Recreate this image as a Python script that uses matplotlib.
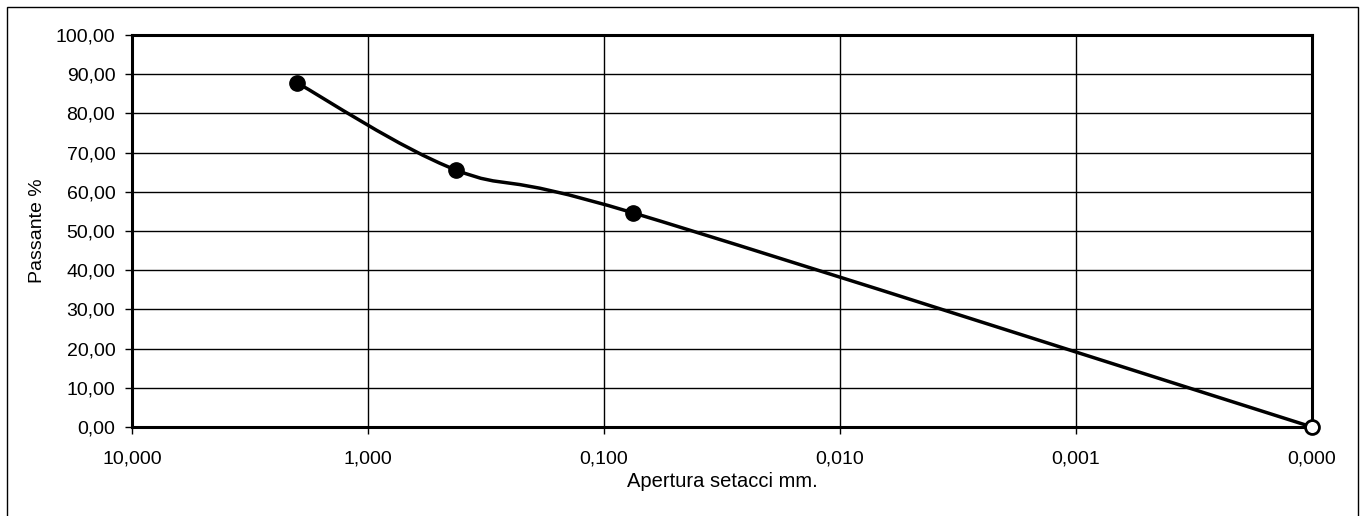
import numpy as np
import matplotlib
matplotlib.use('Agg')
import matplotlib.pyplot as plt
from matplotlib.path import Path
from matplotlib.patches import PathPatch, Rectangle
from matplotlib.ticker import FixedLocator, FuncFormatter, NullLocator

plt.rcParams['font.family'] = ['Liberation Sans', 'DejaVu Sans']

# dati granulometrici
apertura = [2.0, 0.425, 0.075, 0.0001]
passante = [87.8, 65.6, 54.6, 0.0]

x_ticks = [10, 1, 0.1, 0.01, 0.001, 0.0001]
y_ticks = [0, 10, 20, 30, 40, 50, 60, 70, 80, 90, 100]

fig = plt.figure(figsize=(13.64, 5.16), dpi=100)
ax = fig.add_axes([132 / 1364, 89 / 516, 1180 / 1364, 392 / 516])

ax.set_xscale('log')
ax.set_xlim(10, 0.0001)
ax.set_ylim(0, 100)

# linea smussata tipo Excel (Catmull-Rom in spazio log-x)
lx = np.log10(apertura)
py = np.array(passante)
pts = np.column_stack([lx, py])
verts = [pts[0]]
codes = [Path.MOVETO]
n = len(pts)
for i in range(n - 1):
    p0 = pts[max(i - 1, 0)]
    p1 = pts[i]
    p2 = pts[i + 1]
    p3 = pts[min(i + 2, n - 1)]
    c1 = p1 + (p2 - p0) / 6
    c2 = p2 - (p3 - p1) / 6
    verts += [c1, c2, p2]
    codes += [Path.CURVE4] * 3
verts = np.array(verts)
verts[:, 0] = 10 ** verts[:, 0]
ax.add_patch(PathPatch(Path(verts, codes), facecolor='none', edgecolor='black',
                       lw=2.5, zorder=3, clip_on=False))

ax.plot(apertura[:-1], passante[:-1], 'o', color='black', ms=11, zorder=4, clip_on=False)
ax.plot(apertura[-1:], passante[-1:], 'o', mfc='white', mec='black', mew=2, ms=10,
        zorder=4, clip_on=False)

ax.xaxis.set_major_locator(FixedLocator(x_ticks))
ax.xaxis.set_minor_locator(NullLocator())
ax.yaxis.set_major_locator(FixedLocator(y_ticks))
ax.xaxis.set_major_formatter(FuncFormatter(lambda v, p: f"{v:.3f}".replace('.', ',')))
ax.yaxis.set_major_formatter(FuncFormatter(lambda v, p: f"{v:.2f}".replace('.', ',')))

ax.grid(True, color='black', lw=1)
ax.set_axisbelow(True)
for s in ax.spines.values():
    s.set_linewidth(2.2)
ax.tick_params(axis='both', direction='out', length=5, width=1, labelsize=14)
ax.tick_params(axis='y', pad=7)
ax.tick_params(axis='x', pad=12)

ax.set_xlabel('Apertura setacci mm.', fontsize=14.5, labelpad=3)
ax.set_ylabel('Passante %', fontsize=14, labelpad=7)

fig.patches.append(Rectangle((7 / 1364, -0.05), 1351 / 1364, 1.05 - 7 / 516,
                             transform=fig.transFigure, fill=False,
                             edgecolor='black', lw=1))

fig.savefig('out.png', dpi=100)
